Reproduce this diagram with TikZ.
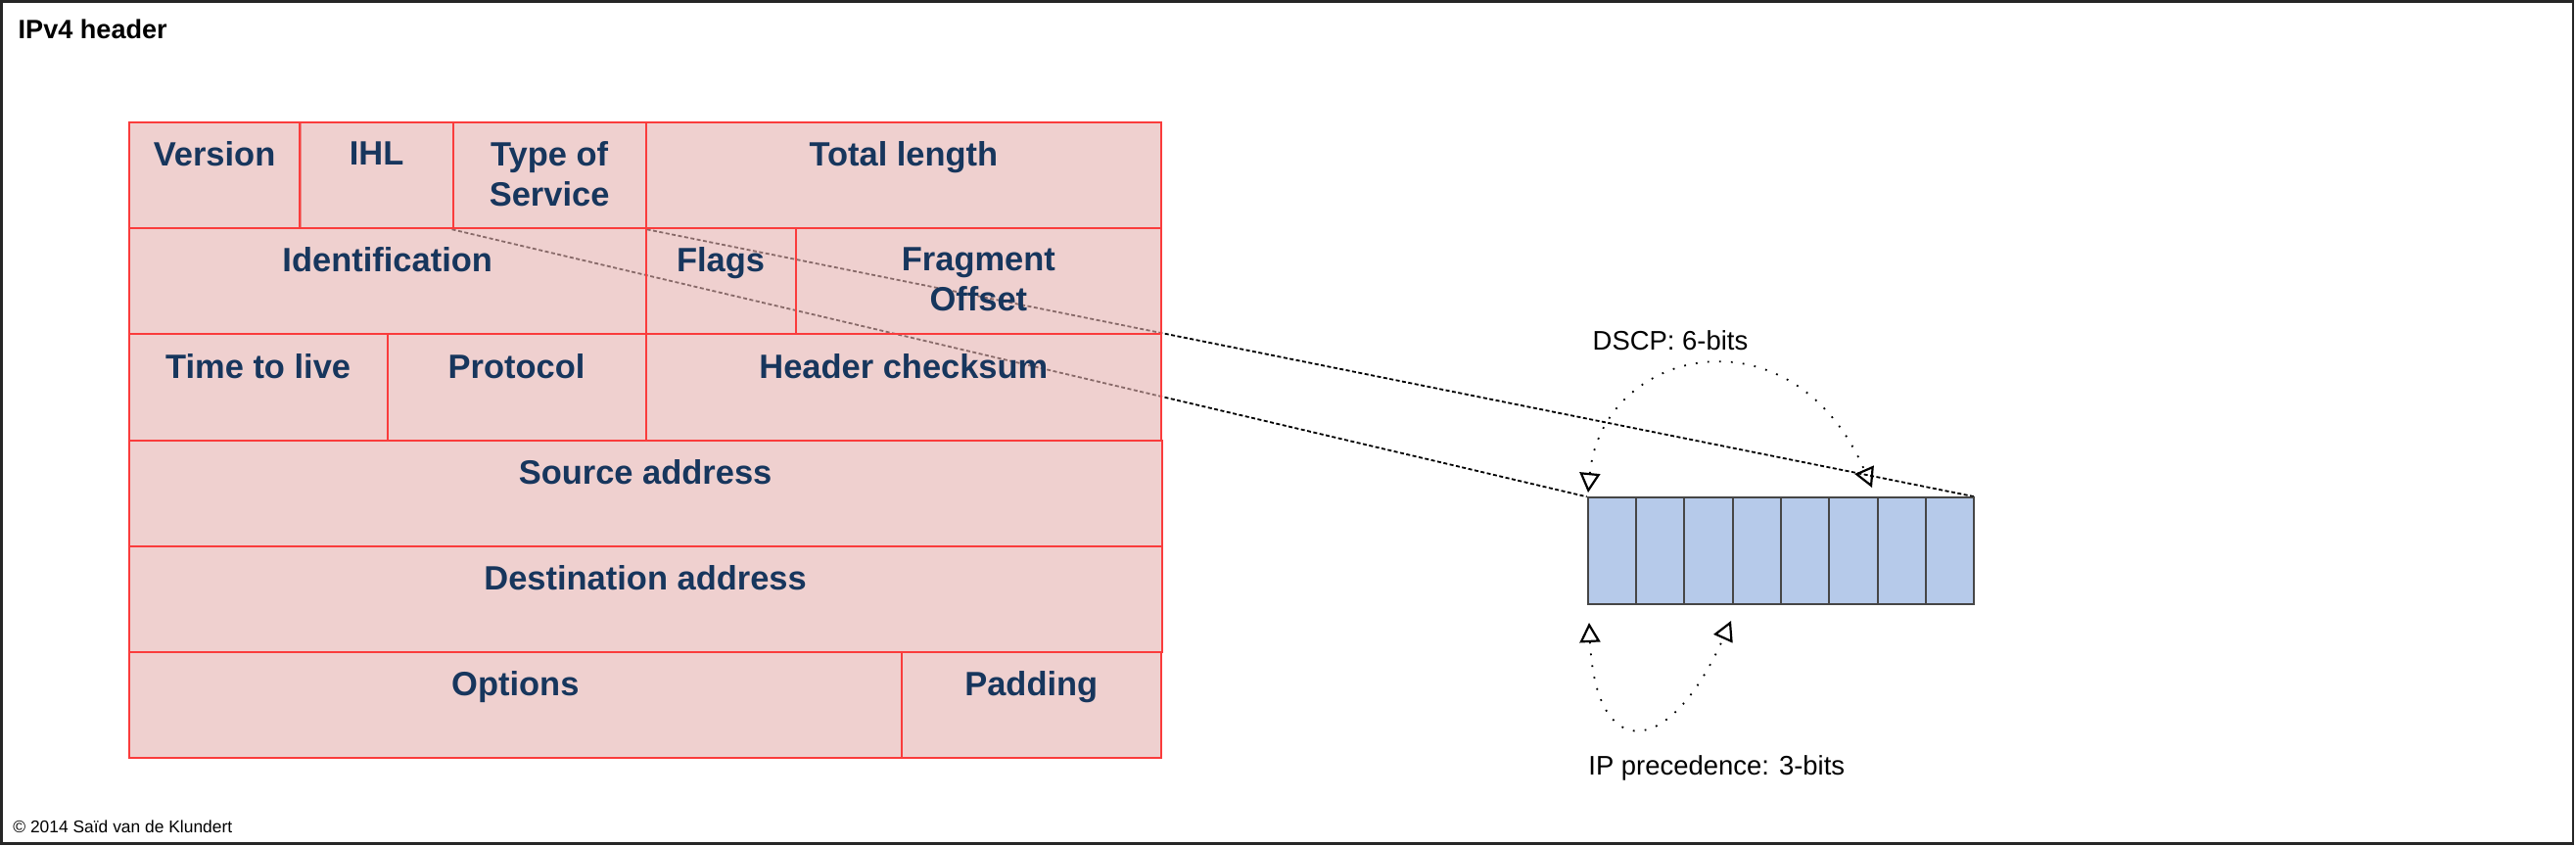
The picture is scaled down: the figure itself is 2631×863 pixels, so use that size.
\documentclass[tikz,border=0pt]{standalone}
\usepackage{fontspec}
\setmainfont{Liberation Sans}
\usepackage{tikz}
\usetikzlibrary{positioning,arrows.meta,backgrounds}
\definecolor{fieldred}{RGB}{250,60,60}
\definecolor{fieldpink}{RGB}{228,177,175}
\definecolor{fieldnavy}{RGB}{23,54,93}
\definecolor{bitblue}{RGB}{182,202,234}
\definecolor{bitgray}{RGB}{70,70,70}

\begin{document}
\begin{tikzpicture}[x=0.01cm,y=-0.01cm,
  field/.style={draw=fieldred,line width=0.02cm,fill=fieldpink,fill opacity=0.6,
    anchor=north west,inner sep=0pt,minimum height=1.082cm,minimum width=#1},
  field label/.style={font=\fontsize{9.8}{11.7}\selectfont\bfseries,
    text=fieldnavy,align=center,inner sep=0pt},
  bit/.style={draw=bitgray,line width=0.02cm,fill=bitblue,anchor=north west,
    inner sep=0pt,minimum width=0.493cm,minimum height=1.084cm},
  connector/.style={draw=black,line width=0.018cm,dash pattern=on 0.04cm off 0.025cm},
  bracket/.style={draw=black,line width=0.018cm,dash pattern=on 0.018cm off 0.102cm,
    {Triangle[open,length=0.2cm,width=0.21cm,line width=0.022cm]}-{Triangle[open,length=0.2cm,width=0.21cm,line width=0.022cm]}},
  note/.style={font=\fontsize{7.8}{9}\selectfont,inner sep=0pt,anchor=base west}]

  \useasboundingbox (0,0) rectangle (2631,863);
  \draw[line width=0.025cm,draw=black!85] (1.5,1.5) rectangle (2628,861.5);

  \node[font=\fontsize{7.7}{9}\selectfont\bfseries,inner sep=0pt,anchor=base west]
    (title) at (18,39.3) {IPv4 header};
  \node[font=\fontsize{4.95}{6}\selectfont,inner sep=0pt,anchor=base west]
    (copy) at (12.7,850) {© 2014 Saïd van de Klundert};

  % header fields, row by row
  \node[field=1.748cm] (ver) at (130.6,124) {};
  \node[field=1.562cm] (ihl) at (305.4,124) {};
  \node[field=1.969cm] (tos) at (461.6,124) {};
  \node[field=5.265cm] (tlen) at (658.5,124) {};

  \node[field=5.279cm] (ident) at (130.6,232.2) {};
  \node[field=1.531cm] (flags) at (658.5,232.2) {};
  \node[field=3.734cm] (frag) at (811.6,232.2) {};

  \node[field=2.639cm] (ttl) at (130.6,340.4) {};
  \node[field=2.640cm] (proto) at (394.5,340.4) {};
  \node[field=5.265cm] (hcs) at (658.5,340.4) {};

  \node[field=10.544cm] (src) at (130.6,448.6) {};
  \node[field=10.544cm] (dst) at (130.6,556.8) {};

  \node[field=7.890cm] (opt) at (130.6,665) {};
  \node[field=2.654cm] (pad) at (919.5,665) {};

  \foreach \f/\t in {ver/Version,ihl/IHL,tos/Type of\\Service,tlen/Total length,
      ident/Identification,flags/Flags,frag/Fragment\\Offset,
      ttl/Time to live,proto/Protocol,hcs/Header checksum,
      src/Source address,dst/Destination address,opt/Options,pad/Padding}
    \node[field label,below=0.2cm of \f.north] (\f label) {\t};

  % the eight bits of the ToS byte
  \foreach \i in {0,...,7}
    \node[bit] (b\i) at (1620.7+49.3*\i,507.3) {};

  \begin{pgfonlayer}{background}
    \draw[connector] (tos.south west) -- (b0.north west);
    \draw[connector] (tos.south east) -- (b7.north east);
  \end{pgfonlayer}

  \coordinate (dscp from) at (1622,503);
  \coordinate (dscp to) at (1912,498);
  \coordinate (prec from) at (1623,636);
  \coordinate (prec to) at (1768,634);

  \draw[bracket] (dscp from) .. controls (1636,355) and (1830,310) .. (dscp to);
  \draw[bracket] (prec from) .. controls (1630,780) and (1705,775) .. (prec to);

  \node[note] (dscp) at (1626,357.3) {DSCP: 6-bits};
  \node[note] (prec) at (1621.7,791.7) {IP precedence: 3-bits};
\end{tikzpicture}
\end{document}
